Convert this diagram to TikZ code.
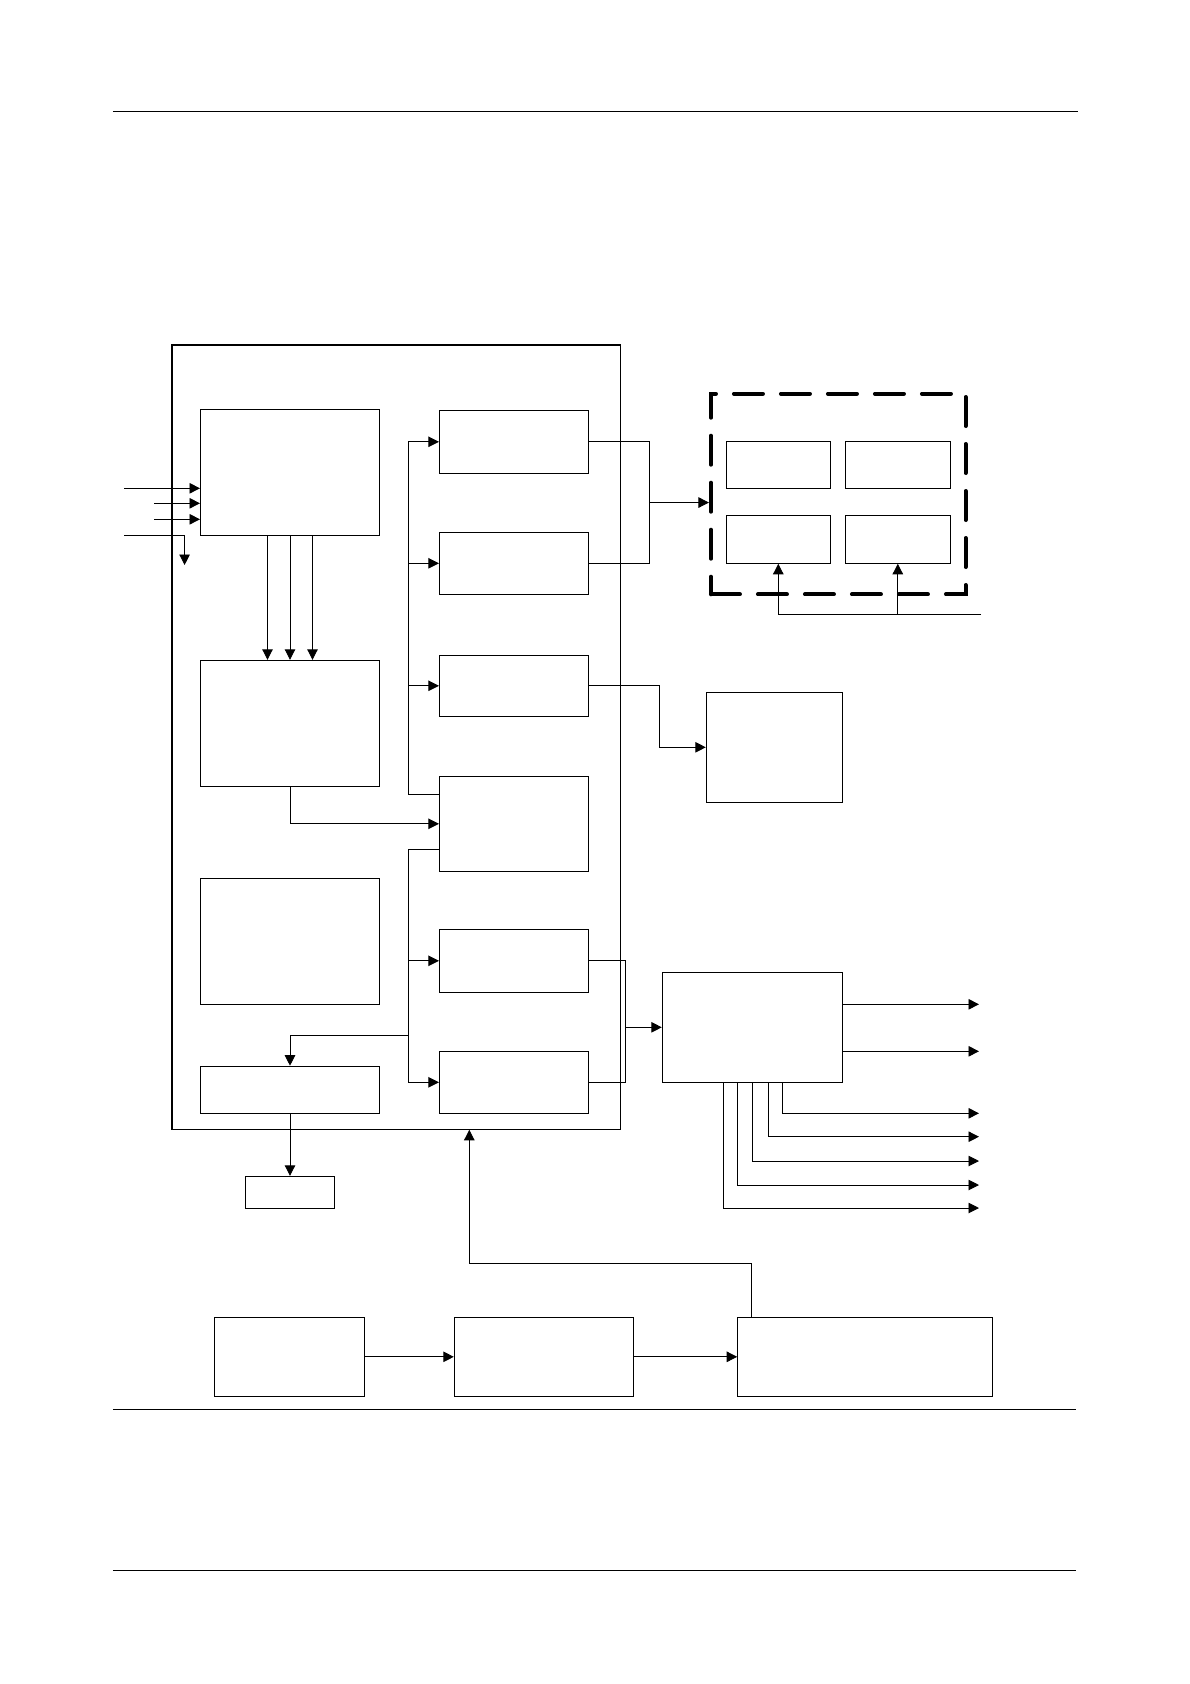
\documentclass[tikz,border=0pt]{standalone}
\usetikzlibrary{arrows.meta}
\tikzset{>={Triangle[length=10.5pt,width=10.5pt]}}
\tikzset{
  blk/.style={draw, line width=1pt, inner sep=0pt, rectangle},
  panel/.style={draw, line width=4pt, dash pattern=on 29pt off 18pt, line cap=round, inner sep=0pt, rectangle},
  wire/.style={line width=0.9pt},
  rule/.style={line width=1.2pt}
}

\begin{document}
\begin{tikzpicture}[x=1pt,y=-1pt]
  \useasboundingbox (0,0) rectangle (1190,1684);
  \draw[rule] (112.8,111.3)--(1077.7,111.3);
  \draw[rule] (112.8,1409.3)--(1076.4,1409.3);
  \draw[rule] (112.8,1570.3)--(1076.4,1570.3);

  \node[blk, minimum width=448.4pt, minimum height=783.6pt] (chip) at (396.2,737.5) {};
  \draw[line width=1.8pt] (chip.south west) |- (chip.north east);

  \node[blk, minimum width=179pt, minimum height=126pt] (enc) at (290,472.3) {};
  \node[blk, minimum width=179pt, minimum height=126pt] (buf) at (290,723.3) {};
  \node[blk, minimum width=179pt, minimum height=126pt] (mem) at (290,941.4) {};
  \node[blk, minimum width=179pt, minimum height=47pt] (drv) at (290,1089.7) {};
  \node[blk, minimum width=89.4pt, minimum height=32pt] (led) at (290,1192.3) {};

  \node[blk, minimum width=149pt, minimum height=63pt] (r1) at (513.9,441.8) {};
  \node[blk, minimum width=149pt, minimum height=62pt] (r2) at (513.9,563.3) {};
  \node[blk, minimum width=149pt, minimum height=61pt] (r3) at (513.9,685.8) {};
  \node[blk, minimum width=149pt, minimum height=95pt] (r4) at (513.9,823.8) {};
  \node[blk, minimum width=149pt, minimum height=63pt] (r5) at (513.9,960.8) {};
  \node[blk, minimum width=149pt, minimum height=62pt] (r6) at (513.9,1082.3) {};

  \node[panel, minimum width=254.7pt, minimum height=200.6pt] (pan) at (838.3,494) {};
  \node[blk, minimum width=104pt, minimum height=47pt] (d1) at (778.3,464.8) {};
  \node[blk, minimum width=105pt, minimum height=47pt] (d2) at (897.8,464.8) {};
  \node[blk, minimum width=104pt, minimum height=48pt] (d3) at (778.3,539.3) {};
  \node[blk, minimum width=105pt, minimum height=48pt] (d4) at (897.8,539.3) {};

  \node[blk, minimum width=136.4pt, minimum height=110pt] (ext) at (774.5,747.3) {};
  \node[blk, minimum width=180pt, minimum height=110pt] (io) at (752.3,1027.3) {};

  \node[blk, minimum width=149.6pt, minimum height=79pt] (src) at (289.5,1356.8) {};
  \node[blk, minimum width=178.8pt, minimum height=79pt] (conv) at (543.7,1356.8) {};
  \node[blk, minimum width=254.8pt, minimum height=79pt] (pwr) at (865.1,1356.8) {};

  \coordinate (in1) at (124,488.3);
  \coordinate (in2) at (154,503.3);
  \coordinate (in3) at (154,519.3);
  \coordinate (in4) at (124,535.3);
  \coordinate (out4) at (184.6,565);
  \draw[wire,->] (in1) -- (in1 -| enc.west);
  \draw[wire,->] (in2) -- (in2 -| enc.west);
  \draw[wire,->] (in3) -- (in3 -| enc.west);
  \draw[wire,->] (in4) -| (out4);

  \draw[wire,->] ([xshift=-22.5pt]enc.south) -- ([xshift=-22.5pt]buf.north);
  \draw[wire,->] (enc.south) -- (buf.north);
  \draw[wire,->] ([xshift=22.5pt]enc.south) -- ([xshift=22.5pt]buf.north);
  \draw[wire,->] (buf.south) |- (r4.west);

  \draw[wire,->] ([yshift=29.5pt]r4.west) -- ++(-30,0) coordinate (bus1) |- (r1.west);
  \draw[wire,->] (bus1 |- r2.west) -- (r2.west);
  \draw[wire,->] (bus1 |- r3.west) -- (r3.west);

  \draw[wire,->] ([yshift=-25.5pt]r4.west) -- ++(-30,0) coordinate (bus2) |- (r6.west);
  \draw[wire,->] (bus2 |- r5.west) -- (r5.west);
  \path (bus2 |- drv.north) ++(0,-30.7) coordinate (br);
  \draw[wire,->] (br) -| (drv.north);
  \draw[wire,->] (drv.south) -- (led.north);

  \draw[wire] (r1.east) -- ++(61,0) coordinate (j1) |- (r2.east);
  \path (j1) -- coordinate (j1m) (j1 |- r2.east);
  \draw[wire,->] (j1m) -- (j1m -| pan.west);
  \draw[wire,->] (r3.east) -- ++(71,0) |- (ext.west);

  \coordinate (ctl) at (981,614.3);
  \draw[wire,->] (ctl) -| (d3.south);
  \draw[wire,->] (ctl -| d4.south) -- (d4.south);

  \draw[wire] (r5.east) -- ++(37,0) coordinate (j2) |- (r6.east);
  \draw[wire,->] (j2 |- io.west) -- (io.west);

  \coordinate (q1) at (979,1004.3);
  \coordinate (q2) at (979,1051.3);
  \draw[wire,->] (q1 -| io.east) -- (q1);
  \draw[wire,->] (q2 -| io.east) -- (q2);
  \coordinate (p1) at (979,1113.3);
  \coordinate (p2) at (979,1136.7);
  \coordinate (p3) at (979,1161);
  \coordinate (p4) at (979,1185);
  \coordinate (p5) at (979,1208);
  \draw[wire,->] ([xshift=30pt]io.south) |- (p1);
  \draw[wire,->] ([xshift=16pt]io.south) |- (p2);
  \draw[wire,->] (io.south) |- (p3);
  \draw[wire,->] ([xshift=-15pt]io.south) |- (p4);
  \draw[wire,->] ([xshift=-28.6pt]io.south) |- (p5);

  \draw[wire,->] (src.east) -- (conv.west);
  \draw[wire,->] (conv.east) -- (pwr.west);
  \draw[wire,->] ([xshift=14.7pt]pwr.north west) -- ++(0,-53) -| ([xshift=73.1pt]chip.south);
\end{tikzpicture}
\end{document}
